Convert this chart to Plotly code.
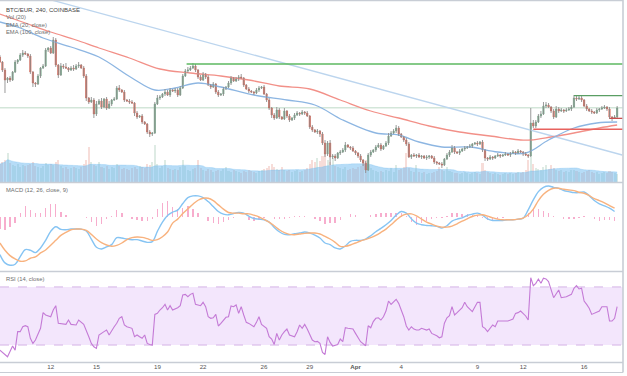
import pandas as pd
import plotly.graph_objects as go

# ---------------- data (4h candles, BTC/EUR Coinbase) ----------------
start = pd.Timestamp("2018-03-08 16:00")
open0 = 7620
closes = [
    7520, 7360, 7160, 7200, 7160, 7320, 7520, 7560, 7660, 7700,
    7680, 7640, 7320, 7100, 7080, 7240, 7400, 7440, 7760, 7800,
    7700, 7960, 7460, 7260, 7440, 7420, 7400, 7360, 7400, 7380,
    7440, 7460, 7400, 7240, 6800, 6720, 6760, 6480, 6680, 6740,
    6620, 6780, 6600, 6680, 6760, 6780, 7000, 6960, 6920, 6760,
    6740, 6720, 6700, 6500, 6420, 6440, 6320, 6280, 6120, 6080,
    6100, 6680, 6800, 6820, 6880, 6920, 6860, 6960, 6940, 6960,
    6860, 7000, 7240, 7340, 7360, 7400, 7440, 7360, 7220, 7160,
    7280, 7220, 7060, 7020, 7080, 6920, 6860, 6880, 6980, 7020,
    7100, 7200, 7140, 7180, 7220, 7200, 7060, 6980, 6940, 6920,
    6900, 6960, 7000, 7020, 6880, 6760, 6600, 6460, 6400, 6560,
    6420, 6380, 6540, 6440, 6360, 6400, 6460, 6500, 6480, 6520,
    6500, 6440, 6220, 6160, 6120, 6140, 6080, 5900, 5680, 5900,
    5620, 5640, 5600, 5700, 5720, 5760, 5860, 5820, 5800, 5740,
    5700, 5640, 5560, 5500, 5360, 5660, 5720, 5760, 5820, 5860,
    5780, 5840, 5900, 6040, 6100, 6140, 6200, 6080, 6020, 5960,
    5880, 5620, 5660, 5640, 5660, 5620, 5640, 5600, 5620, 5640,
    5600, 5520, 5500, 5480, 5460, 5580, 5660, 5720, 5800, 5720,
    5700, 5740, 5780, 5800, 5820, 5840, 5880, 5900, 5880, 5920,
    5760, 5600, 5580, 5620, 5600, 5640, 5660, 5640, 5660, 5680,
    5660, 5700, 5720, 5700, 5740, 5720, 5680, 5660, 5640, 6300,
    6240, 6320, 6440, 6480, 6640, 6660, 6620, 6540, 6420, 6580,
    6540, 6560, 6540, 6560, 6580, 6620, 6800, 6780, 6800, 6760,
    6640, 6580, 6540, 6520, 6500, 6560, 6580, 6600, 6620, 6580,
    6420, 6400, 6420, 6600,
]
upper_wick = [
    40, 20, 40, 20, 40, 20, 40, 20, 40, 60,
    40, 20, 40, 20, 20, 40, 20, 40, 40, 20,
    40, 60, 40, 20, 60, 40, 80, 20, 40, 60,
    40, 60, 20, 40, 40, 20, 60, 40, 60, 40,
    60, 20, 40, 60, 20, 40, 40, 60, 20, 40,
    20, 40, 40, 20, 40, 20, 40, 20, 20, 40,
    20, 40, 60, 40, 20, 60, 40, 40, 20, 40,
    40, 40, 40, 40, 60, 40, 60, 40, 20, 40,
    40, 20, 40, 20, 40, 20, 40, 20, 40, 20,
    40, 40, 20, 40, 40, 60, 20, 20, 40, 20,
    20, 40, 40, 20, 40, 20, 40, 20, 40, 60,
    40, 20, 60, 20, 40, 20, 40, 40, 20, 40,
    20, 40, 20, 40, 20, 40, 20, 40, 60, 40,
    60, 40, 40, 20, 40, 40, 60, 20, 20, 40,
    20, 20, 40, 20, 40, 40, 40, 20, 40, 40,
    40, 20, 40, 60, 40, 40, 60, 40, 20, 20,
    40, 40, 20, 40, 20, 40, 20, 20, 40, 20,
    20, 40, 20, 20, 40, 20, 40, 40, 60, 40,
    20, 40, 20, 40, 20, 40, 20, 20, 40, 20,
    40, 20, 20, 40, 20, 20, 40, 20, 20, 40,
    20, 20, 40, 20, 40, 20, 20, 40, 20, 300,
    60, 40, 40, 60, 80, 60, 40, 20, 40, 60,
    40, 40, 20, 40, 40, 40, 60, 40, 60, 40,
    20, 40, 20, 40, 20, 40, 20, 40, 40, 20,
    40, 20, 40, 40,
]
lower_wick = [
    20, 40, 260, 60, 40, 20, 20, 40, 20, 40,
    20, 40, 40, 80, 60, 20, 40, 20, 20, 40,
    20, 20, 40, 60, 20, 40, 20, 40, 20, 40,
    20, 40, 20, 40, 60, 40, 20, 80, 40, 20,
    40, 20, 40, 20, 40, 20, 20, 40, 20, 40,
    20, 40, 20, 60, 40, 20, 40, 20, 40, 60,
    40, 20, 20, 40, 20, 40, 20, 40, 20, 40,
    40, 20, 20, 20, 40, 20, 20, 40, 40, 20,
    20, 40, 20, 40, 20, 40, 40, 20, 40, 20,
    20, 40, 20, 20, 40, 20, 40, 20, 40, 20,
    40, 20, 40, 20, 20, 40, 40, 60, 40, 20,
    40, 20, 20, 40, 40, 20, 40, 20, 40, 20,
    40, 20, 40, 40, 20, 40, 60, 40, 60, 40,
    160, 40, 60, 20, 40, 20, 40, 20, 40, 20,
    40, 40, 40, 60, 60, 20, 40, 20, 40, 20,
    40, 20, 20, 40, 20, 20, 40, 40, 20, 40,
    40, 20, 40, 20, 40, 20, 40, 20, 40, 40,
    20, 40, 40, 20, 60, 20, 20, 40, 20, 40,
    20, 40, 20, 40, 20, 20, 40, 20, 40, 20,
    40, 60, 40, 20, 40, 20, 20, 40, 20, 20,
    20, 40, 20, 40, 20, 20, 40, 20, 40, 20,
    40, 40, 20, 40, 20, 40, 20, 40, 40, 20,
    40, 20, 40, 20, 20, 40, 20, 40, 20, 40,
    20, 40, 20, 40, 20, 20, 40, 20, 20, 40,
    40, 60, 20, 20,
]
volume = [
    18, 20, 22, 29, 19, 17, 16, 18, 15, 17,
    16, 17, 18, 20, 16, 15, 14, 16, 19, 17,
    18, 17, 20, 22, 16, 14, 15, 13, 14, 15,
    14, 13, 15, 18, 22, 35, 20, 17, 16, 20,
    15, 14, 16, 13, 15, 14, 18, 16, 13, 14,
    13, 12, 14, 15, 13, 16, 15, 14, 18, 17,
    20, 37, 18, 14, 16, 22, 14, 13, 12, 13,
    12, 15, 22, 16, 12, 11, 13, 14, 22, 14,
    12, 11, 13, 12, 10, 11, 12, 11, 13, 15,
    11, 10, 12, 11, 10, 9, 11, 10, 12, 11,
    10, 9, 11, 12, 13, 14, 16, 18, 15, 13,
    12, 15, 12, 11, 12, 10, 11, 12, 10, 11,
    12, 14, 18, 22, 20, 24, 21, 26, 28, 22,
    20, 24, 16, 15, 14, 13, 15, 12, 13, 14,
    13, 15, 16, 19, 22, 18, 14, 12, 11, 10,
    11, 10, 12, 11, 14, 10, 17, 12, 13, 15,
    29, 14, 11, 10, 17, 10, 9, 10, 8, 9,
    9, 10, 11, 15, 12, 11, 15, 11, 10, 9,
    9, 8, 9, 10, 9, 8, 9, 10, 9, 8,
    19, 12, 10, 9, 8, 9, 8, 7, 8, 9,
    8, 9, 8, 9, 10, 9, 10, 12, 22, 25,
    18, 14, 13, 12, 15, 17, 13, 17, 14, 12,
    11, 12, 10, 11, 10, 12, 12, 11, 10, 9,
    10, 11, 12, 10, 9, 10, 8, 9, 10, 9,
    11, 10, 9, 8,
]

# moving averages (candle index, price)
ema100_idx = [0, 10, 20, 30, 39, 51, 63, 75, 87, 98, 110, 122, 134, 146, 157,
              169, 181, 193, 205, 209, 217, 226, 236, 243]
ema100_val = [8480, 8300, 8120, 7960, 7800, 7600, 7380, 7300, 7240, 7160, 7040,
              6980, 6760, 6540, 6400, 6240, 6120, 6040, 5960, 5960, 6020, 6100,
              6200, 6260]
ema20_idx = [0, 8, 17, 28, 39, 52, 61, 69, 78, 87, 100, 113, 124, 135, 148, 157,
             165, 174, 185, 196, 207, 216, 226, 235, 243]
ema20_val = [8320, 8200, 8000, 7820, 7620, 7200, 6960, 7000, 7100, 7020, 6860,
             6760, 6660, 6360, 6100, 6060, 5920, 5820, 5820, 5720, 5700, 5960,
             6200, 6300, 6320]

# drawn objects
trend_idx = [0, 245]
trend_val = [9040, 5660]
resist_level, resist_from = 7480, 73.5
mid_level = 6605
range_top, range_top_from = 6847, 226
red_level1, red_level1_from = 6393, 240
red_level2, red_level2_from = 6173, 210

# MACD (12, 26, close, 9) sampled every 2 candles
macd = [
    -112, -137, -144, -141, -118, -97, -99, -106, -92, -69,
    -42, -28, -36, -37, -35, -35, -35, -41, -65, -90,
    -95, -89, -82, -61, -62, -65, -67, -67, -71, -75,
    -73, -42, -14, 6, 16, 22, 42, 60, 65, 65,
    60, 48, 33, 18, 10, 8, 12, 15, 13, 4,
    -3, -5, -7, -14, -30, -43, -51, -52, -49, -47,
    -44, -47, -53, -62, -77, -82, -92, -95, -86, -72,
    -69, -69, -65, -55, -43, -33, -22, -9, 7, 18,
    13, -4, -17, -22, -24, -25, -27, -32, -25, -11,
    -5, -1, 6, 10, 13, 7, -4, -9, -9, -9,
    -7, -7, -5, -2, 23, 53, 78, 91, 95, 91,
    88, 81, 78, 75, 75, 77, 66, 51, 41, 35,
    28, 18,
]
signal = [
    -77, -99, -115, -125, -132, -131, -123, -119, -107, -98,
    -84, -69, -54, -45, -37, -35, -35, -39, -51, -65,
    -76, -83, -87, -84, -77, -67, -61, -59, -60, -64,
    -69, -67, -58, -44, -17, -5, 12, 26, 40, 52,
    58, 58, 51, 38, 25, 15, 13, 13, 11, 11,
    7, 2, -6, -14, -25, -37, -46, -51, -52, -50,
    -48, -47, -47, -50, -57, -65, -75, -87, -87, -83,
    -77, -71, -66, -61, -54, -45, -35, -22, -8, 4,
    10, 11, 5, -5, -14, -20, -26, -29, -29, -26,
    -19, -11, -4, 3, 7, 8, 4, -1, -5, -7,
    -7, -7, -5, -2, 8, 25, 51, 70, 82, 88,
    88, 85, 83, 81, 76, 73, 66, 57, 51, 44,
    36, 28,
]

# RSI (14, close) (candle index, value)
rsi_idx = [0, 2, 3, 5, 6, 7, 8, 9, 10, 11, 12, 13, 14, 16, 17, 18, 20, 21, 22, 23,
           24, 26, 27, 28, 30, 31, 33, 34, 35, 36, 37, 38, 39, 41, 42, 43, 44, 45,
           46, 47, 48, 49, 50, 52, 53, 54, 55, 56, 57, 58, 59, 60, 61, 62, 63, 64,
           65, 66, 67, 68, 70, 71, 72, 73, 74, 75, 76, 77, 79, 80, 81, 82, 83, 84,
           85, 86, 87, 89, 90, 91, 92, 93, 94, 95, 96, 97, 98, 100, 101, 102, 103,
           104, 105, 106, 107, 108, 109, 110, 111, 112, 113, 114, 116, 117, 118,
           119, 120, 121, 123, 124, 125, 126, 127, 128, 129, 130, 131, 133, 134,
           135, 136, 137, 139, 140, 141, 142, 144, 145, 146, 147, 148, 149, 150,
           151, 152, 153, 154, 155, 156, 157, 158, 159, 160, 161, 162, 163, 164,
           165, 166, 168, 169, 170, 172, 173, 174, 175, 176, 177, 178, 179, 180,
           182, 183, 184, 186, 188, 189, 190, 191, 192, 194, 195, 196, 198, 200,
           202, 203, 204, 205, 207, 208, 209, 210, 211, 212, 213, 214, 215, 216,
           218, 219, 220, 221, 223, 225, 226, 227, 228, 229, 230, 231, 232, 233,
           234, 235, 236, 237, 239, 240, 241, 242, 243]
rsi_val = [26.5, 23.5, 21.9, 29.3, 26.5, 39.2, 39.2, 42.6, 43.3, 42.6, 34.6, 31.1,
           33.4, 41.5, 52.3, 50.7, 49.5, 54.1, 57.1, 45.0, 44.9, 44.2, 47.2, 44.2,
           43.8, 47.2, 44.2, 39.2, 35.7, 31.1, 28.8, 27.7, 36.9, 39.2, 40.3, 36.9,
           40.3, 42.6, 45.0, 48.4, 49.5, 43.8, 42.6, 41.5, 35.7, 36.9, 35.7, 34.6,
           36.9, 31.1, 30.4, 30.0, 51.1, 51.8, 54.1, 55.7, 58.0, 54.1, 57.1, 54.1,
           55.7, 57.1, 64.5, 64.9, 63.3, 64.9, 65.6, 58.0, 57.1, 59.4, 56.4, 49.5,
           48.4, 48.8, 51.1, 43.1, 44.9, 49.1, 49.5, 56.9, 56.4, 57.6, 51.8, 56.4,
           50.7, 45.6, 44.9, 42.6, 45.6, 49.5, 44.2, 42.6, 41.5, 35.7, 34.1, 30.4,
           38.0, 33.4, 36.9, 39.2, 41.0, 36.9, 35.7, 39.2, 43.8, 41.5, 44.2, 41.0,
           33.4, 32.3, 32.5, 31.1, 24.9, 23.5, 35.7, 31.8, 29.3, 30.4, 34.1, 32.3,
           41.9, 41.5, 41.0, 38.0, 34.6, 32.3, 29.5, 43.3, 41.9, 46.1, 48.4, 48.8,
           47.2, 49.5, 53.4, 60.3, 58.0, 59.9, 61.5, 58.7, 54.1, 49.5, 43.1, 40.3,
           42.6, 41.0, 40.3, 40.3, 41.5, 40.3, 41.0, 38.0, 36.4, 35.0, 35.7, 45.0,
           48.8, 50.2, 56.4, 50.7, 52.3, 55.7, 59.4, 56.4, 53.0, 59.4, 59.4, 42.6,
           41.5, 39.2, 43.8, 42.6, 46.5, 46.5, 46.5, 47.9, 51.8, 52.3, 53.4, 50.0,
           47.2, 76.4, 70.9, 72.5, 75.5, 72.5, 76.0, 75.5, 73.7, 62.6, 65.6, 67.9,
           62.6, 63.3, 64.9, 69.1, 70.9, 68.6, 69.1, 60.3, 58.0, 55.3, 51.1, 51.8,
           53.0, 53.4, 56.4, 56.4, 46.5, 46.5, 48.4, 56.4]

tick_dates = ["2018-03-12", "2018-03-15", "2018-03-19", "2018-03-22", "2018-03-26",
              "2018-03-29", "2018-04-01", "2018-04-04", "2018-04-09", "2018-04-12",
              "2018-04-16"]
tick_text = ["12", "15", "19", "22", "26", "29", "<b>Apr</b>", "4", "9", "12", "16"]

# ---------------- derived ----------------
step = pd.Timedelta(hours=4)
def t_at(i):
    return start + step * i

n = len(closes)
times = [t_at(i) for i in range(n)]
opens = [open0] + closes[:-1]
highs = [max(o, c) + w for o, c, w in zip(opens, closes, upper_wick)]
lows = [min(o, c) - w for o, c, w in zip(opens, closes, lower_wick)]
vol_ma = pd.Series(volume).rolling(20, min_periods=1).mean()
macd_times = [t_at(2 * k) for k in range(len(macd))]
hist = [m - s for m, s in zip(macd, signal)]

UP, DOWN = "#6ba583", "#d75442"
FONT = "Liberation Sans"

fig = go.Figure()

# volume (base axis of main pane so it sits behind the candles)
vol_colors = ["rgba(107,165,131,0.22)" if c >= o else "rgba(215,84,66,0.2)"
              for o, c in zip(opens, closes)]
fig.add_trace(go.Bar(x=times, y=volume, marker=dict(color=vol_colors, line_width=0),
                     width=step.total_seconds() * 1000 * 0.8, xaxis="x", yaxis="y",
                     hoverinfo="skip"))
fig.add_trace(go.Scatter(x=times, y=vol_ma, mode="lines", fill="tozeroy",
                         line=dict(color="rgba(110,185,240,0.55)", width=0.5, shape="spline"),
                         fillcolor="rgba(110,185,240,0.5)", xaxis="x", yaxis="y",
                         hoverinfo="skip"))

# price overlays
fig.add_trace(go.Scatter(x=[t_at(i) for i in trend_idx], y=trend_val, mode="lines",
                         line=dict(color="#bcd5ee", width=1.3), xaxis="x", yaxis="y2"))
fig.add_trace(go.Scatter(x=[t_at(i) for i in ema100_idx], y=ema100_val, mode="lines",
                         line=dict(color="#f29088", width=1.3, shape="spline"),
                         xaxis="x", yaxis="y2"))
fig.add_trace(go.Scatter(x=[t_at(i) for i in ema20_idx], y=ema20_val, mode="lines",
                         line=dict(color="#8db6e2", width=1.3, shape="spline"),
                         xaxis="x", yaxis="y2"))

wx, wy = [], []
for t, lo, hi in zip(times, lows, highs):
    wx += [t, t, None]
    wy += [lo, hi, None]
fig.add_trace(go.Scatter(x=wx, y=wy, mode="lines", line=dict(color="#8f8f8f", width=0.9),
                         xaxis="x", yaxis="y2", hoverinfo="skip"))
fig.add_trace(go.Candlestick(
    x=times, open=opens, close=closes,
    high=[max(o, c) for o, c in zip(opens, closes)],
    low=[min(o, c) for o, c in zip(opens, closes)],
    increasing=dict(line=dict(color=UP, width=0.6), fillcolor=UP),
    decreasing=dict(line=dict(color=DOWN, width=0.6), fillcolor=DOWN),
    whiskerwidth=0, xaxis="x", yaxis="y2", hoverinfo="skip"))

# MACD
fig.add_trace(go.Bar(x=macd_times, y=hist, marker=dict(color="#f7adcd", line_width=0),
                     width=step.total_seconds() * 1000 * 0.55, xaxis="x", yaxis="y3"))
fig.add_trace(go.Scatter(x=macd_times, y=macd, mode="lines",
                         line=dict(color="#86c4f3", width=1.4, shape="spline"),
                         xaxis="x", yaxis="y3"))
fig.add_trace(go.Scatter(x=macd_times, y=signal, mode="lines",
                         line=dict(color="#f8b27e", width=1.4, shape="spline"),
                         xaxis="x", yaxis="y3"))

# RSI
fig.add_trace(go.Scatter(x=[t_at(i) for i in rsi_idx], y=rsi_val, mode="lines",
                         line=dict(color="#c47ad6", width=1.1), xaxis="x", yaxis="y4"))

t_left = pd.Timestamp("2018-03-08 16:10")
t_right = pd.Timestamp("2018-04-18 13:15")

H = 362.0
def py(px):
    return 1 - px / H

shapes = []
# horizontal levels
shapes.append(dict(type="line", xref="paper", x0=0, x1=1, yref="y2", y0=mid_level, y1=mid_level,
                   line=dict(color="#d3e6d9", width=1.5), layer="below"))
shapes.append(dict(type="line", xref="x", x0=t_at(resist_from), x1=t_right, yref="y2",
                   y0=resist_level, y1=resist_level, line=dict(color="#5cb860", width=1.5)))
shapes.append(dict(type="line", xref="x", x0=t_at(range_top_from), x1=t_right, yref="y2",
                   y0=range_top, y1=range_top, line=dict(color="#5a9e63", width=1.3)))
shapes.append(dict(type="line", xref="x", x0=t_at(red_level1_from), x1=t_right, yref="y2",
                   y0=red_level1, y1=red_level1, line=dict(color="#c94f4f", width=1.3)))
shapes.append(dict(type="line", xref="x", x0=t_at(red_level2_from), x1=t_right, yref="y2",
                   y0=red_level2, y1=red_level2, line=dict(color="#e8625e", width=1.5)))
# RSI band
shapes.append(dict(type="rect", xref="paper", x0=0, x1=1, yref="y4", y0=30, y1=70,
                   fillcolor="#f3e6fc", line_width=0, layer="below"))
for lv in (30, 70):
    shapes.append(dict(type="line", xref="paper", x0=0, x1=1, yref="y4", y0=lv, y1=lv,
                       line=dict(color="#d4b3e6", width=1, dash="dash"), layer="below"))
# pane frame
SEP = "#c8cdd5"
for ypx in (0.5, 182.5, 271.5, 362.5):
    shapes.append(dict(type="line", xref="paper", x0=0, x1=1, yref="paper",
                       y0=py(ypx), y1=py(ypx), line=dict(color=SEP, width=1.6)))
shapes.append(dict(type="line", xref="paper", x0=0, x1=1, yref="paper",
                   y0=py(372.5), y1=py(372.5), line=dict(color=SEP, width=1.2)))
shapes.append(dict(type="line", xref="paper", x0=1, x1=1, yref="paper",
                   y0=py(372.5), y1=1, line=dict(color=SEP, width=1.6)))

def label(text, ypx, color="#6e6e6e", size=5.8):
    return dict(text=text, xref="paper", yref="paper", x=4 / 623, y=py(ypx),
                xanchor="left", yanchor="middle", showarrow=False,
                font=dict(family=FONT, size=size, color=color))

annotations = [
    label("BTC/EUR, 240, COINBASE", 10, "#3f3f3f", 6.0),
    label("Vol (20)", 17.3),
    label("EMA (20, close)", 24.7),
    label("EMA (100, close)", 32.3),
    label("MACD (12, 26, close, 9)", 190),
    label("RSI (14, close)", 279.3),
]

noax = dict(showgrid=False, zeroline=False, showticklabels=False, showline=False, fixedrange=True)
fig.update_layout(
    width=627, height=376,
    margin=dict(l=0, r=4, t=0, b=14),
    paper_bgcolor="white", plot_bgcolor="white",
    showlegend=False, bargap=0,
    font=dict(family=FONT),
    xaxis=dict(type="date", range=[t_left, t_right], anchor="y4", fixedrange=True,
               showgrid=False, zeroline=False, showline=False, ticks="",
               tickvals=tick_dates, ticktext=tick_text,
               tickfont=dict(family=FONT, size=6.2, color="#555555"),
               rangeslider=dict(visible=False)),
    yaxis=dict(domain=[py(182), 1], range=[0, 182], **noax),
    yaxis2=dict(domain=[py(182), 1], overlaying="y", range=[5120, 8760], **noax),
    yaxis3=dict(domain=[py(271), py(183)], range=[-161.5, 104], **noax),
    yaxis4=dict(domain=[0, py(272)], range=[18.3, 80.3], **noax),
    shapes=shapes,
    annotations=annotations,
)

fig.write_html("out.html", config={"displayModeBar": False, "staticPlot": True},
               post_script="document.body.style.margin='0px';document.body.style.overflow='hidden';")
